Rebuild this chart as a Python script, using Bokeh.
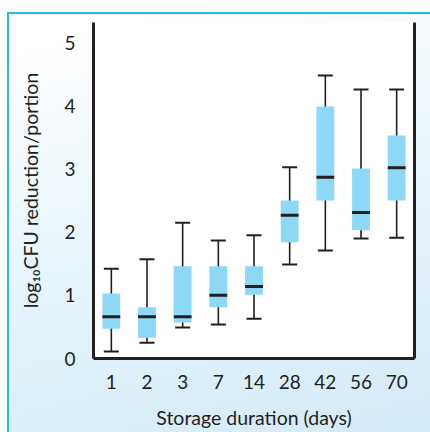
from bokeh.plotting import figure
from bokeh.models import LinearAxis, FixedTicker, ColumnDataSource
from bokeh.embed import file_html
from bokeh.resources import INLINE

days = ["1", "2", "3", "7", "14", "28", "42", "56", "70"]
whisker_low = [0.11, 0.25, 0.49, 0.54, 0.63, 1.49, 1.71, 1.90, 1.91]
q1 = [0.47, 0.33, 0.57, 0.81, 1.01, 1.84, 2.50, 2.03, 2.50]
median = [0.66, 0.66, 0.66, 1.00, 1.14, 2.27, 2.87, 2.31, 3.02]
q3 = [1.03, 0.81, 1.46, 1.46, 1.46, 2.50, 3.99, 3.01, 3.53]
whisker_high = [1.42, 1.57, 2.15, 1.87, 1.95, 3.03, 4.48, 4.26, 4.26]
y_ticks = [0, 1, 2, 3, 4, 5]

src = ColumnDataSource(dict(x=days, lo=whisker_low, q1=q1, med=median, q3=q3, hi=whisker_high))

INK = "#231f20"
FONT = "Lato"

p = figure(x_range=days, y_range=(0, 5.32), width=430, height=432,
           output_backend="svg", toolbar_location=None,
           min_border_left=93, min_border_right=16, min_border_top=22, min_border_bottom=74)
p.x_range.range_padding = 0
p.border_fill_alpha = 0
p.background_fill_color = "white"
p.outline_line_color = None
p.grid.visible = False
p.styles = {
    "background": "linear-gradient(#1fbdec,#1fbdec) 7px 12px / 2px 100% no-repeat, "
                  "linear-gradient(#1fbdec,#1fbdec) 7px 12px / 100% 2px no-repeat, "
                  "linear-gradient(165deg, #ffffff 8%, #e6f4fb 50%, #d3eaf7 100%) 7px 14px / 100% 100% no-repeat"
}

# whiskers
p.segment(x0="x", y0="lo", x1="x", y1="hi", source=src, line_color=INK, line_width=1.6)
p.scatter(x="x", y="hi", source=src, marker="dash", size=15, line_color=INK, line_width=2)
p.scatter(x="x", y="lo", source=src, marker="dash", size=15, line_color=INK, line_width=2)
# boxes
p.vbar(x="x", bottom="q1", top="q3", width=0.5, source=src, fill_color="#8dd8f5", line_color=None)
# medians
p.rect(x="x", y="med", width=0.5, height=3, height_units="screen", source=src,
       fill_color=INK, line_color=None)

for ax in (p.xaxis[0], p.yaxis[0]):
    ax.axis_line_color = INK
    ax.axis_line_width = 3
    ax.major_tick_line_color = None
    ax.minor_tick_line_color = None
    ax.major_label_text_font = FONT
    ax.major_label_text_font_size = "19px"
    ax.major_label_text_color = INK
    ax.axis_label_text_font = FONT
    ax.axis_label_text_font_size = "19.5px"
    ax.axis_label_text_font_style = "normal"
    ax.axis_label_text_color = INK

p.yaxis.ticker = FixedTicker(ticks=y_ticks)
p.yaxis.major_label_standoff = 12
p.xaxis.major_label_standoff = 10
p.xaxis.axis_label = "Storage duration (days)"
p.yaxis.axis_label = "log\u2081\u2080CFU reduction/portion"
p.xaxis.axis_label_standoff = 14
p.yaxis.axis_label_standoff = 19

right = LinearAxis(ticker=FixedTicker(ticks=[]), axis_line_color=INK, axis_line_width=3,
                   major_tick_line_color=None, minor_tick_line_color=None,
                   major_label_text_font_size="0px")
p.add_layout(right, "right")

open("out.html", "w").write(file_html(p, INLINE))
